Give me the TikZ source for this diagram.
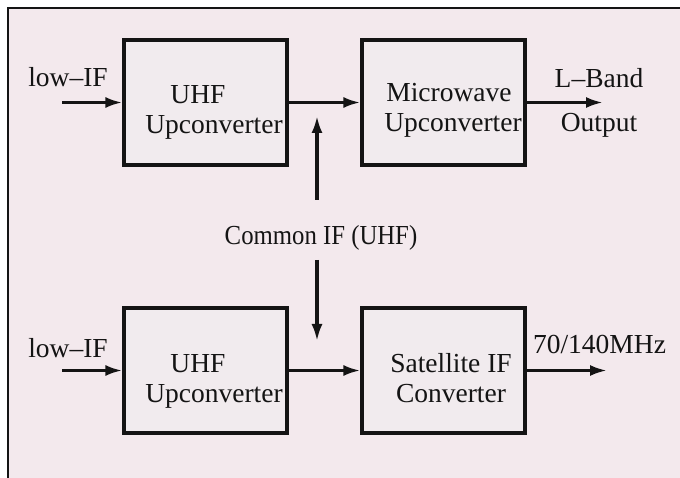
\documentclass[tikz,border=0pt]{standalone}
\usepackage{fontspec}
\setmainfont{Liberation Serif}
\usetikzlibrary{arrows.meta}
\definecolor{bgpink}{RGB}{243,233,237}
\definecolor{boxfill}{RGB}{241,235,238}
\definecolor{inkc}{RGB}{20,20,20}
\tikzset{
  blockbox/.style={draw=inkc, line width=3.2pt, fill=boxfill, inner sep=0pt,
                   minimum width=163pt, minimum height=125pt},
  lbl/.style={anchor=base, inner sep=0pt, text=inkc,
              font=\fontsize{27.5}{30}\selectfont},
  arr/.style={draw=inkc, line width=3.1pt, -{Latex[length=17pt,width=11pt]}},
}
\begin{document}
\begin{tikzpicture}[x=1pt,y=-1pt]
\useasboundingbox (0,0) rectangle (680,478);
\fill[white] (0,0) rectangle (680,478);
\fill[bgpink] (8,8) rectangle (680,478);
\draw[inkc, line width=2.2pt] (8,478) -- (8,8) -- (680,8);

% blocks
\node[blockbox] (uhfa) at (205.5,102.5) {};
\node[blockbox] (mw)   at (443.5,102.5) {};
\node[blockbox] (uhfb) at (205.5,370.5) {};
\node[blockbox] (sat)  at (443.5,370.5) {};

% block texts
\node[lbl] (uhfaT1) at (198,104) {UHF};
\node[lbl] (uhfaT2) at (214,134) {Upconverter};
\node[lbl] (mwT1)   at (449,102) {Microwave};
\node[lbl] (mwT2)   at (453,132) {Upconverter};
\node[lbl] (uhfbT1) at (198,372) {UHF};
\node[lbl] (uhfbT2) at (214,402) {Upconverter};
\node[lbl] (satT1)  at (451,372) {Satellite IF};
\node[lbl] (satT2)  at (451,402) {Converter};

% outside labels
\node[lbl] (lowa) at (68,87) {low–IF};
\node[lbl] (lowb) at (68,357) {low–IF};
\node[lbl] (lband) at (599,88) {L–Band};
\node[lbl] (outp)  at (599,132) {Output};
\node[lbl] (mhz)   at (599.5,353) {70/140MHz};
\node[lbl] (common) at (321,245) {\addfontfeature{FakeStretch=0.9}Common IF (UHF)};

% free ends
\coordinate (ina)  at (62,102.5);
\coordinate (inb)  at (62,370.5);
\coordinate (outa) at (603,102.5);
\coordinate (outb) at (607,370.5);
\coordinate (upS)  at (317,200);
\coordinate (upE)  at (317,116);
\coordinate (dnS)  at (317,260);
\coordinate (dnE)  at (317,341);

% connectors
\draw[arr] (ina) -- (uhfa.west);
\draw[arr] (uhfa.east) -- (mw.west);
\draw[arr] (mw.east) -- (outa);
\draw[arr] (inb) -- (uhfb.west);
\draw[arr] (uhfb.east) -- (sat.west);
\draw[arr] (sat.east) -- (outb);
\draw[arr] (upS) -- (upE);
\draw[arr] (dnS) -- (dnE);
\end{tikzpicture}
\end{document}
